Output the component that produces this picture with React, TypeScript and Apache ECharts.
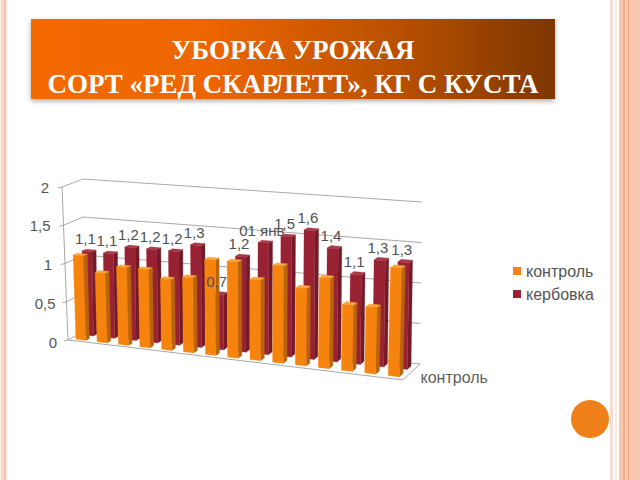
import React, { useEffect, useRef } from "react";
import * as echarts from "echarts";

const categories = ["1","2","3","4","5","6","7","8","9","10","11","12","13","14","15"];
const controlValues = [1.1,0.9,1.0,1.0,0.9,0.95,1.2,1.2,1.0,1.2,0.95,1.1,0.8,0.8,1.3];
const kerbovkaValues = [1.1,1.1,1.2,1.2,1.2,1.3,0.7,1.2,1.4,1.5,1.6,1.4,1.1,1.3,1.3];
const kerbovkaLabels = ["1,1","1,1","1,2","1,2","1,2","1,3","0,7","1,2","01 янв","1,5","1,6","1,4","1,1","1,3","1,3"];
const tickValues = [0,0.5,1,1.5,2];
const tickLabels = ["0","0,5","1","1,5","2"];
const depthLabel = ["контроль"];
const titleLines = "УБОРКА УРОЖАЯ\nСОРТ «РЕД СКАРЛЕТТ», КГ С КУСТА";
const FONT = "'Liberation Sans', Arial, sans-serif";

// perspective: t = position along the category axis, u = share of the value axis, d = depth
function warp(t0: number, u: number, d: number): number[] {
  const t = t0 - 0.06 * t0 * (1 - t0);
  const fx = 68 + 335 * t + (-6 + 10.6 * t) * u;
  const fy = 340 + 40 * t - (153 + 15 * t) * u;
  const bx = 84 + 336 * t + (-1 + 3 * t) * u;
  const by = 331 + 33 * t - (152 + 10 * t) * u;
  return [fx + (bx - fx) * d, fy + (by - fy) * d];
}

function makeBarRender(depth: number, side: string, front: string, top: string) {
  return (params: any, api: any) => {
    const cs = params.coordSys;
    const p = api.coord([api.value(0), api.value(1)]);
    const t0 = (p[0] - 5.3 - cs.x) / cs.width;
    const t1 = (p[0] + 5.3 - cs.x) / cs.width;
    const u = (cs.y + cs.height - p[1]) / cs.height;
    const d0 = depth;
    const d1 = depth + 0.22;
    const poly = (pts: number[][], fill: string) => ({
      type: "polygon",
      shape: { points: pts },
      style: { fill, stroke: fill, lineWidth: 0.3 },
    });
    return {
      type: "group",
      children: [
        poly([warp(t1, 0, d0), warp(t1, u, d0), warp(t1, u, d1), warp(t1, 0, d1)], side),
        poly([warp(t0, u, d0), warp(t1, u, d0), warp(t1, u, d1), warp(t0, u, d1)], top),
        poly([warp(t0, 0, d0), warp(t1, 0, d0), warp(t1, u, d0), warp(t0, u, d0)], front),
      ],
    };
  };
}

function frameRender(params: any, api: any) {
  const cs = params.coordSys;
  const u = (cs.y + cs.height - api.coord([0, api.value(1)])[1]) / cs.height;
  const stroke = "#a8a8a8";
  const a = warp(0, u, 0);
  const line = (pts: number[][]) => ({
    type: "polyline",
    shape: { points: pts },
    style: { stroke, lineWidth: 1, fill: "none" },
  });
  const children: any[] = [
    line([[a[0] - 4, a[1] + 1], a, warp(0, u, 1), warp(1, u, 1)]),
    {
      type: "text",
      style: {
        text: tickLabels[params.dataIndex],
        x: a[0] - 13 + (u < 0.4 ? 2 : 0),
        y: a[1] + 2 * (1 - u),
        align: "right",
        verticalAlign: "middle",
        fontFamily: FONT,
        fontSize: 15,
        fill: "#555555",
      },
    },
  ];
  if (params.dataIndex === 0) {
    children.push(line([a, warp(1, 0, 0), warp(1, 0, 1)]));
    children.push(line([warp(0, 0, 0), warp(0, 1, 0)]));
  }
  return { type: "group", children };
}

function labelRender(params: any, api: any) {
  const cs = params.coordSys;
  const p = api.coord([api.value(0), api.value(1)]);
  const t = (p[0] - cs.x) / cs.width;
  const u = (cs.y + cs.height - p[1]) / cs.height;
  const q = warp(t, u, 0.7);
  return {
    type: "text",
    style: {
      text: kerbovkaLabels[params.dataIndex],
      x: q[0] - 3,
      y: q[1] - 12,
      align: "center",
      verticalAlign: "middle",
      fontFamily: FONT,
      fontSize: 15,
      fill: "#505050",
    },
  };
}

function depthLabelRender(params: any, api: any) {
  const q = warp(1, 0, 0.5);
  return {
    type: "text",
    style: {
      text: depthLabel[0],
      x: q[0] + 9,
      y: q[1] + 5,
      align: "left",
      verticalAlign: "middle",
      fontFamily: FONT,
      fontSize: 16,
      fill: "#606060",
    },
  };
}

const stripe = (x: number, w: number, fill: string) => ({
  type: "rect",
  silent: true,
  shape: { x, y: 0, width: w, height: 480 },
  style: { fill },
  z: 0,
});

export default function App() {
  const ref = useRef<HTMLDivElement>(null);
  useEffect(() => {
    document.body.style.margin = "0";
    const chart = echarts.init(ref.current!, undefined, { renderer: "svg" });
    const encode = { x: 0, y: 1 };
    chart.setOption({
      animation: false,
      backgroundColor: "#ffffff",
      grid: { left: 68, top: 187, width: 335, height: 154, containLabel: false },
      xAxis: { type: "category", data: categories, show: false },
      yAxis: { type: "value", min: 0, max: 2, interval: 0.5, show: false },
      legend: {
        data: ["контроль", "кербовка"],
        orient: "vertical",
        left: 508,
        top: 258,
        icon: "rect",
        itemWidth: 8,
        itemHeight: 8,
        itemGap: 7,
        textStyle: { fontFamily: FONT, fontSize: 16, color: "#555555" },
      },
      graphic: [
        stripe(0, 8, "#fdeee8"),
        stripe(1, 2, "#f8d5c6"),
        stripe(4, 2, "#f4c0a8"),
        stripe(610, 3, "#f8dcd0"),
        stripe(615, 2, "#fbe8e0"),
        stripe(619, 21, "#f6c6b0"),
        stripe(623, 2, "#f0b08e"),
        stripe(628, 1, "#eda67f"),
        {
          type: "rect",
          silent: true,
          shape: { x: 31, y: 19, width: 524, height: 80 },
          style: {
            fill: new echarts.graphic.LinearGradient(0, 0, 1, 0, [
              { offset: 0, color: "#f56a00" },
              { offset: 0.35, color: "#ec6500" },
              { offset: 0.7, color: "#b95000" },
              { offset: 1, color: "#7d3600" },
            ]),
            shadowBlur: 5,
            shadowColor: "rgba(0,0,0,0.35)",
            shadowOffsetY: 2,
          },
          z: 1,
        },
        {
          type: "text",
          silent: true,
          style: {
            text: titleLines,
            x: 293,
            y: 67,
            align: "center",
            verticalAlign: "middle",
            fontFamily: "'Liberation Serif', 'Times New Roman', serif",
            fontSize: 27,
            fontWeight: "bold",
            lineHeight: 34,
            fill: "#ffffff",
          },
          z: 2,
        },
        {
          type: "circle",
          silent: true,
          shape: { cx: 590, cy: 419, r: 19 },
          style: { fill: "#f0801a" },
          z: 1,
        },
      ],
      series: [
        {
          type: "custom",
          name: "frame",
          renderItem: frameRender,
          data: tickValues.map((v) => [0, v]),
          encode,
          clip: false,
          z: 2,
          silent: true,
        },
        {
          type: "custom",
          name: "кербовка",
          renderItem: makeBarRender(0.62, "#741a26", "#982234", "#a83a48"),
          data: kerbovkaValues.map((v, i) => [i, v]),
          encode,
          clip: false,
          itemStyle: { color: "#982234" },
          z: 3,
        },
        {
          type: "custom",
          name: "контроль",
          renderItem: makeBarRender(0.15, "#b8640c", "#f5830e", "#f9a63c"),
          data: controlValues.map((v, i) => [i, v]),
          encode,
          clip: false,
          itemStyle: { color: "#f5830e" },
          z: 4,
        },
        {
          type: "custom",
          name: "labels",
          renderItem: labelRender,
          data: kerbovkaValues.map((v, i) => [i, v]),
          encode,
          clip: false,
          z: 5,
          silent: true,
        },
        {
          type: "custom",
          name: "depth",
          renderItem: depthLabelRender,
          data: [[0, 0]],
          encode,
          clip: false,
          z: 5,
          silent: true,
        },
      ],
    });
    return () => chart.dispose();
  }, []);
  return <div ref={ref} style={{ width: 640, height: 480 }} />;
}
